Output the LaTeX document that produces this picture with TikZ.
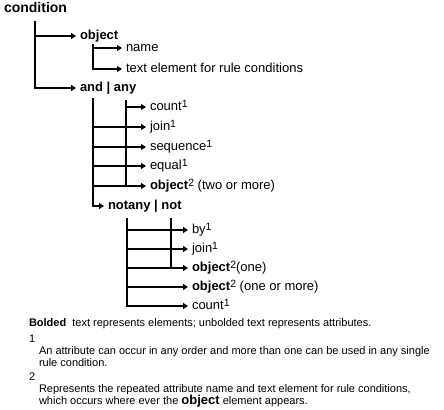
\documentclass[tikz,border=0pt]{standalone}
\usepackage{fontspec}
\setmainfont{Liberation Sans}
\usetikzlibrary{arrows.meta}

\newcommand{\fnmark}[1]{\raisebox{3.5bp}{\fontsize{10.5bp}{10.5bp}\selectfont #1}}

\begin{document}
\begin{tikzpicture}[x=1bp,y=-1bp,line width=2bp,
    lbl/.style={anchor=west,inner xsep=3bp,inner ysep=0pt,text height=10bp,text depth=3bp,font=\fontsize{13bp}{15bp}\selectfont},
    note/.style={anchor=west,inner sep=0pt,text height=8bp,text depth=2bp,font=\fontsize{11bp}{13bp}\selectfont},
    arr/.style={-{Triangle[length=5bp,width=6bp]}}]
  \useasboundingbox (0,0) rectangle (444,409);

  % top level
  \node[lbl,font=\fontsize{14bp}{15bp}\selectfont] (cond) at (0,9) {\bfseries condition};
  \coordinate (c0) at (35,21);
  \node[lbl] (obj) at (76,36) {\bfseries object};
  \node[lbl] (andany) at (76,88) {\bfseries and | any};
  \draw[arr] (c0) |- (andany.west);
  \draw[arr] (c0 |- obj.west) -- (obj.west);

  % object
  \coordinate (o0) at (93,44);
  \node[lbl] (name) at (122,48) {name};
  \node[lbl] (text) at (122,69) {text element for rule conditions};
  \draw[arr] (o0) |- (text.west);
  \draw[arr] (o0 |- name.west) -- (name.west);

  % and | any
  \coordinate (a0) at (93,98);
  \coordinate (a1) at (126,100);
  \node[lbl] (count) at (146,107) {count\fnmark{1}};
  \node[lbl] (join) at (146,127) {join\fnmark{1}};
  \node[lbl] (seq) at (146,147) {sequence\fnmark{1}};
  \node[lbl] (equal) at (146,166) {equal\fnmark{1}};
  \node[lbl] (obj2) at (146,186) {\textbf{object}\fnmark{2} (two or more)};
  \node[lbl] (notany) at (104,206) {\bfseries notany | not};
  \draw[arr] (a0) |- (notany.west);
  \foreach \n in {join,seq,equal,obj2} \draw[arr] (a0 |- \n.west) -- (\n.west);
  \draw (a1) -- (a1 |- obj2.west);
  \draw[arr] (a1 |- count.west) -- (count.west);

  % notany | not
  \coordinate (n0) at (127,218);
  \coordinate (n1) at (171,218);
  \node[lbl] (by) at (188,230) {by\fnmark{1}};
  \node[lbl] (join2) at (188,249) {join\fnmark{1}};
  \node[lbl] (obj3) at (188,268) {\textbf{object}\fnmark{2}(one)};
  \node[lbl] (obj4) at (188,287) {\textbf{object}\fnmark{2} (one or more)};
  \node[lbl] (count2) at (188,306) {count\fnmark{1}};
  \draw[arr] (n0) |- (count2.west);
  \foreach \n in {by,join2,obj3,obj4} \draw[arr] (n0 |- \n.west) -- (\n.west);
  \draw (n1) -- (n1 |- obj3.west);

  % notes
  \node[note] (bold) at (28,323) {\textbf{Bolded}\ \ text represents elements; unbolded text represents attributes.};
  \node[note] (m1) at (28,339) {1};
  \node[note] (f1a) at (38,351) {An attribute can occur in any order and more than one can be used in any single};
  \node[note] (f1b) at (38,363) {rule condition.};
  \node[note] (m2) at (28,377) {2};
  \node[note] (f2a) at (38,389) {Represents the repeated attribute name and text element for rule conditions,};
  \node[note] (f2b) at (38,401) {which occurs where ever the {\fontsize{13bp}{13bp}\selectfont\bfseries object} element appears.};
\end{tikzpicture}
\end{document}
